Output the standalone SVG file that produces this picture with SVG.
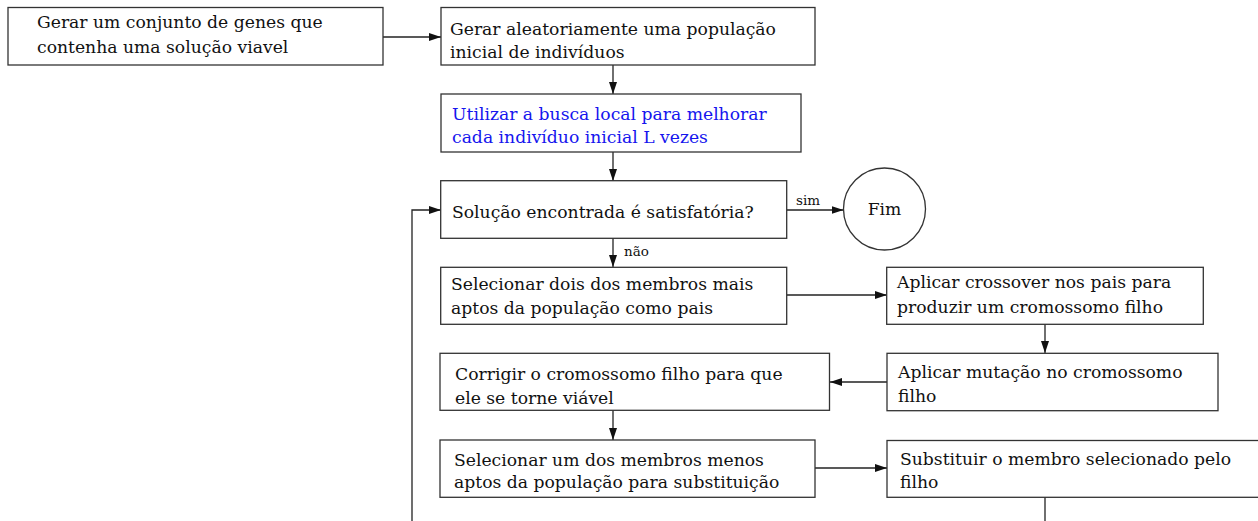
<svg xmlns="http://www.w3.org/2000/svg" width="1258" height="521" viewBox="0 0 1258 521">
<style>
.box{fill:#fff;stroke:#333;stroke-width:1.3}
.t{font-family:"DejaVu Serif","Liberation Serif",serif;font-size:17.2px;fill:#111}
.blue{fill:#1515ee}
.lbl{font-family:"DejaVu Serif","Liberation Serif",serif;font-size:13.5px;fill:#111}
.c{fill:none;stroke:#222;stroke-width:1.3}
</style>
<defs>
<marker id="ah" markerUnits="userSpaceOnUse" markerWidth="13" markerHeight="9" refX="12" refY="4" orient="auto">
<path d="M0,0 L12,4 L0,8 z" fill="#111"/>
</marker>
</defs>
<rect width="1258" height="521" fill="#fff"/>
<g id="connectors">
<line class="c" x1="383" y1="37" x2="441" y2="37" marker-end="url(#ah)"/>
<line class="c" x1="613" y1="65" x2="613" y2="94" marker-end="url(#ah)"/>
<line class="c" x1="613" y1="152" x2="613" y2="181" marker-end="url(#ah)"/>
<line class="c" x1="787" y1="210" x2="843.5" y2="210" marker-end="url(#ah)"/>
<text class="lbl" x="796" y="205">sim</text>
<line class="c" x1="613" y1="238" x2="613" y2="267" marker-end="url(#ah)"/>
<text class="lbl" x="624" y="256">não</text>
<line class="c" x1="787" y1="295" x2="887" y2="295" marker-end="url(#ah)"/>
<line class="c" x1="1045" y1="324" x2="1045" y2="353" marker-end="url(#ah)"/>
<line class="c" x1="887" y1="382" x2="830" y2="382" marker-end="url(#ah)"/>
<line class="c" x1="613" y1="410" x2="613" y2="440" marker-end="url(#ah)"/>
<line class="c" x1="815" y1="468" x2="887" y2="468" marker-end="url(#ah)"/>
<line class="c" x1="1045" y1="497" x2="1045" y2="530"/>
<polyline class="c" points="412,530 412,210 441,210" marker-end="url(#ah)"/>
</g>
<g id="n1">
<rect class="box" x="8" y="7.5" width="375" height="57.5"/>
<text class="t" x="37" y="28">Gerar um conjunto de genes que</text>
<text class="t" x="37" y="53">contenha uma solução viavel</text>
</g>
<g id="n2">
<rect class="box" x="441" y="7.5" width="374" height="57.5"/>
<text class="t" x="450" y="35">Gerar aleatoriamente uma população</text>
<text class="t" x="450" y="58">inicial de indivíduos</text>
</g>
<g id="n3">
<rect class="box" x="441" y="94" width="360" height="58"/>
<text class="t blue" x="452" y="120">Utilizar a busca local para melhorar</text>
<text class="t blue" x="452" y="143">cada indivíduo inicial L vezes</text>
</g>
<g id="n4">
<rect class="box" x="440.7" y="180.7" width="346" height="57.6"/>
<text class="t" x="452" y="218">Solução encontrada é satisfatória?</text>
</g>
<g id="n5">
<circle class="box" cx="884.5" cy="209" r="41"/>
<text class="t" x="884.5" y="215" text-anchor="middle">Fim</text>
</g>
<g id="n6">
<rect class="box" x="440.7" y="267.3" width="346" height="57"/>
<text class="t" x="451" y="290">Selecionar dois dos membros mais</text>
<text class="t" x="451" y="314">aptos da população como pais</text>
</g>
<g id="n7">
<rect class="box" x="886.7" y="267.3" width="316.6" height="57"/>
<text class="t" x="897" y="288">Aplicar crossover nos pais para</text>
<text class="t" x="897" y="313">produzir um cromossomo filho</text>
</g>
<g id="n8">
<rect class="box" x="887" y="353.3" width="331" height="57.4"/>
<text class="t" x="898" y="378">Aplicar mutação no cromossomo</text>
<text class="t" x="898" y="402">filho</text>
</g>
<g id="n9">
<rect class="box" x="440" y="353.3" width="389.5" height="57"/>
<text class="t" x="455" y="380">Corrigir o cromossomo filho para que</text>
<text class="t" x="455" y="404">ele se torne viável</text>
</g>
<g id="n10">
<rect class="box" x="440" y="440" width="375" height="57.3"/>
<text class="t" x="454" y="466">Selecionar um dos membros menos</text>
<text class="t" x="454" y="488">aptos da população para substituição</text>
</g>
<g id="n11">
<rect class="box" x="887" y="440.5" width="400" height="56.8"/>
<text class="t" x="900" y="465">Substituir o membro selecionado pelo</text>
<text class="t" x="900" y="488">filho</text>
</g>
</svg>
